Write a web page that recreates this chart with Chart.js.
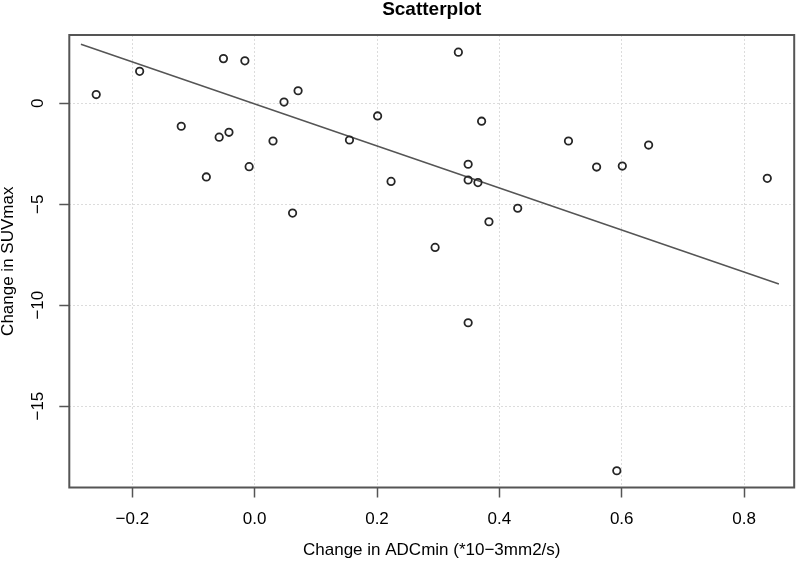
<!DOCTYPE html>
<html>
<head>
<meta charset="utf-8">
<script src="https://cdn.jsdelivr.net/npm/chart.js@4/dist/chart.umd.min.js"></script>
<style>
  html, body { margin: 0; padding: 0; background: #ffffff; }
  #wrap { width: 800px; height: 561px; }
</style>
</head>
<body>
<div id="wrap"><canvas id="c" width="800" height="561"></canvas></div>
<script>
// ---- data ----
const titleText = 'Scatterplot';
const xTitle = 'Change in ADCmin (*10\u22123mm2/s)';
const yTitle = 'Change in SUVmax';

const adcChange = [-0.259, -0.188, -0.051, -0.016, 0.071, 0.048, -0.120, -0.058, -0.042, 0.030,
                   0.155, 0.201, -0.009, -0.079, 0.223, 0.062, 0.333, 0.371, 0.513, 0.644,
                   0.349, 0.349, 0.365, 0.559, 0.601, 0.838, 0.430, 0.383, 0.295, 0.349, 0.592];
const suvChange = [0.43, 1.58, 2.21, 2.10, 0.62, 0.06, -1.14, -1.68, -1.44, -1.87,
                   -1.82, -0.63, -3.14, -3.65, -3.87, -5.44, 2.53, -0.89, -1.87, -2.07,
                   -3.02, -3.80, -3.93, -3.16, -3.11, -3.72, -5.20, -5.87, -7.14, -10.87, -18.2];

const fitX = [-0.284, 0.857];
const fitY = [2.92, -8.95];

const xTicks = [-0.2, 0.0, 0.2, 0.4, 0.6, 0.8];
const yTicks = [0, -5, -10, -15];
const xRange = [-0.303, 0.882];
const yRange = [-19.03, 3.38];

// ---- build chart ----
const FONT = '"Liberation Sans", Arial, Helvetica, sans-serif';
const xFmt = v => { const s = Math.abs(v) < 1e-9 ? '0.0' : v.toFixed(1); return s.replace('-', '\u2212'); };
const yFmt = v => { const s = Math.abs(v) < 1e-9 ? '0' : String(v); return s.replace('-', '\u2212'); };

const scatterPts = adcChange.map((x, i) => ({ x: x, y: suvChange[i] }));
const fitPts = fitX.map((x, i) => ({ x: x, y: fitY[i] }));

const boxPlugin = {
  id: 'boxAndYLabels',
  afterDraw(chart) {
    const { ctx, chartArea: a } = chart;
    ctx.save();
    ctx.strokeStyle = '#555555';
    ctx.lineWidth = 2;
    ctx.strokeRect(a.left, a.top, a.right - a.left, a.bottom - a.top);
    // rotated y tick labels (R style)
    const ys = chart.scales.y;
    ctx.fillStyle = '#000000';
    ctx.font = '17px ' + FONT;
    ctx.textAlign = 'center';
    ctx.textBaseline = 'middle';
    yTicks.forEach(v => {
      const py = ys.getPixelForValue(v);
      ctx.save();
      ctx.translate(38.5, py);
      ctx.rotate(-Math.PI / 2);
      ctx.fillText(yFmt(v), 0, 0);
      ctx.restore();
    });
    ctx.restore();
  }
};

new Chart(document.getElementById('c'), {
  type: 'scatter',
  data: {
    datasets: [
      {
        type: 'scatter',
        data: scatterPts,
        backgroundColor: 'rgba(0,0,0,0)',
        borderColor: '#262626',
        pointRadius: 3.7,
        pointBorderWidth: 1.8,
        borderWidth: 1.8,
        order: 1
      },
      {
        type: 'line',
        data: fitPts,
        borderColor: '#555555',
        borderWidth: 1.5,
        pointRadius: 0,
        fill: false,
        tension: 0,
        order: 2
      }
    ]
  },
  options: {
    responsive: false,
    animation: false,
    events: [],
    layout: { padding: { left: 0, right: 3.3, top: 0, bottom: 0 } },
    plugins: {
      legend: { display: false },
      tooltip: { enabled: false },
      title: {
        display: true,
        fullSize: false,
        text: titleText,
        color: '#000000',
        font: { family: FONT, size: 19, weight: 'bold', lineHeight: 1.05 },
        padding: { top: 0, bottom: 15.05 }
      }
    },
    scales: {
      x: {
        type: 'linear',
        min: xRange[0],
        max: xRange[1],
        afterBuildTicks: s => { s.ticks = xTicks.map(v => ({ value: v })); },
        afterFit: s => { s.height = 73.5; },
        ticks: {
          color: '#000000',
          font: { family: FONT, size: 17 },
          padding: 12,
          maxRotation: 0,
          minRotation: 0,
          callback: v => xFmt(v)
        },
        grid: {
          color: '#dcdcdc',
          lineWidth: 1,
          drawTicks: true,
          tickLength: 10,
          tickColor: '#555555',
          tickWidth: 1.5,
          tickBorderDash: []
        },
        border: { display: false, dash: [2, 2] },
        title: {
          display: true,
          text: xTitle,
          color: '#000000',
          font: { family: FONT, size: 17, lineHeight: 1.2 },
          padding: { top: 0, bottom: 0 }
        }
      },
      y: {
        type: 'linear',
        min: yRange[0],
        max: yRange[1],
        afterBuildTicks: s => { s.ticks = yTicks.map(v => ({ value: v })); },
        afterFit: s => { s.width = 69.3; },
        ticks: { display: false },
        grid: {
          color: '#dcdcdc',
          lineWidth: 1,
          drawTicks: true,
          tickLength: 10,
          tickColor: '#555555',
          tickWidth: 1.5,
          tickBorderDash: []
        },
        border: { display: false, dash: [2, 2] },
        title: {
          display: true,
          text: yTitle,
          color: '#000000',
          font: { family: FONT, size: 17, lineHeight: 1.0 },
          padding: { top: 0, bottom: 0 }
        }
      }
    }
  },
  plugins: [boxPlugin]
});
</script>
</body>
</html>
